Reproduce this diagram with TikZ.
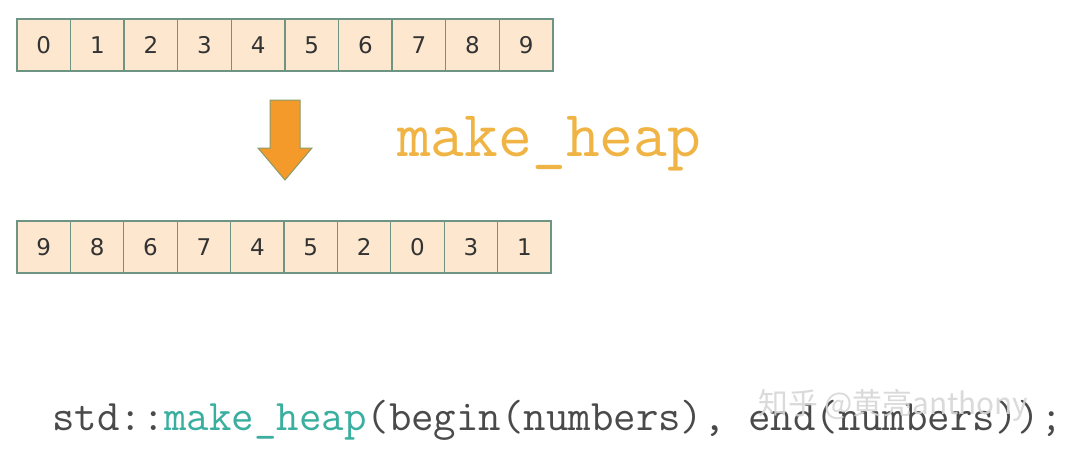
\documentclass[tikz,border=0pt]{standalone}
\usepackage{fontspec}
\setmainfont{Liberation Sans}
\newfontfamily\cellfont{DejaVu Sans}
\newfontfamily\cjkfont{Noto Sans CJK SC}
\definecolor{cellfill}{HTML}{FDE8CF}
\definecolor{celledge}{HTML}{6E9484}
\definecolor{digit}{HTML}{333333}
\definecolor{arroworange}{HTML}{F39A2B}
\definecolor{arrowedge}{HTML}{8A9A6A}
\definecolor{titlecol}{HTML}{F0B445}
\definecolor{codegray}{HTML}{4A4A4A}
\definecolor{codeteal}{HTML}{3AAFA0}
\tikzset{
  cell/.style={draw=celledge, line width=1.3pt, fill=cellfill, minimum width=53.5pt, minimum height=52pt, inner sep=0pt, outer sep=0pt, font=\cellfont\fontsize{23}{25}\selectfont, text=digit, anchor=north west},
}
\begin{document}
\begin{tikzpicture}[x=1pt,y=-1pt]
\useasboundingbox (0,0) rectangle (1074,452);
\fill[white] (0,0) rectangle (1074,452);
% top row
\foreach \v [count=\i from 0] in {0,1,2,3,4,5,6,7,8,9} {
  \node[cell] (t\i) at ({17+53.6*\i},19) {\v};
}
% bottom row
\foreach \v [count=\i from 0] in {9,8,6,7,4,5,2,0,3,1} {
  \node[cell] (b\i) at ({17+53.4*\i},221) {\v};
}
% arrow
\filldraw[fill=arroworange, draw=arrowedge, line width=1pt, line join=miter]
  (270,100) -- (300,100) -- (300,148) -- (312,148) -- (285,180) -- (258,148) -- (270,148) -- cycle;
% title
\node[anchor=base west, inner sep=0pt, text=titlecol, font=\ttfamily\fontsize{65.6}{68}\selectfont] (title) at (397,156) {make\_heap};
% code
\node[anchor=base west, inner sep=0pt, font=\ttfamily\fontsize{43.6}{46}\selectfont] (code) at (52,430) {\textcolor{codegray}{std::}\textcolor{codeteal}{make\_heap}\textcolor{codegray}{(begin(numbers), end(numbers));}};
% watermark
\node[anchor=base west, inner sep=0pt, text=black!16, opacity=0.9, font=\cjkfont\fontsize{29.8}{32}\selectfont] (wm) at (758,414) {知乎 @黄亮anthony};
\end{tikzpicture}
\end{document}
